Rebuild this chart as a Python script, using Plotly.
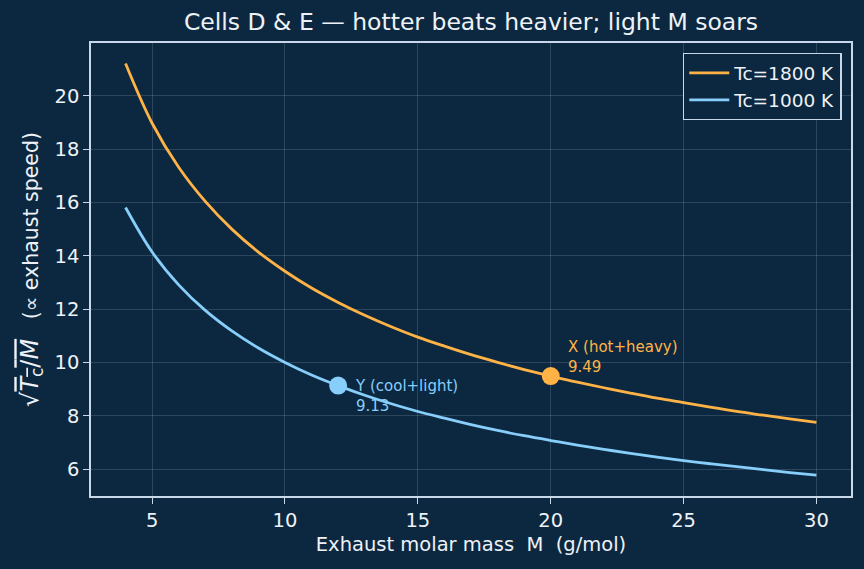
import plotly.graph_objects as go

# ---- data ----
molar_mass = [4, 5, 6, 7, 8, 9, 10, 11, 12, 13, 14, 15, 16, 17, 18, 19, 20,
              21, 22, 23, 24, 25, 26, 27, 28, 29, 30]
speed_1800 = [21.21, 18.97, 17.32, 16.04, 15.00, 14.14, 13.42, 12.79, 12.25,
              11.77, 11.34, 10.95, 10.61, 10.29, 10.00, 9.73, 9.49, 9.26, 9.05,
              8.85, 8.66, 8.49, 8.32, 8.16, 8.02, 7.88, 7.75]
speed_1000 = [15.81, 14.14, 12.91, 11.95, 11.18, 10.54, 10.00, 9.53, 9.13,
              8.77, 8.45, 8.16, 7.91, 7.67, 7.45, 7.25, 7.07, 6.90, 6.74, 6.59,
              6.45, 6.32, 6.20, 6.09, 5.98, 5.87, 5.77]
series_names = ["Tc=1800 K", "Tc=1000 K"]
point_x = [20, 12]
point_y = [9.49, 9.13]
point_labels = ["X (hot+heavy)", "Y (cool+light)"]
x_ticks = [5, 10, 15, 20, 25, 30]
y_ticks = [6, 8, 10, 12, 14, 16, 18, 20]

BG = "#0c2840"
ORANGE = "#ffb347"
BLUE = "#87cefa"
TXT = "#eef2f7"
SPINE = "#c9d8e8"
FONT = "DejaVu Sans"

fig = go.Figure()
fig.add_trace(go.Scatter(x=molar_mass, y=speed_1800, mode="lines",
                         line=dict(color=ORANGE, width=2.8, shape="spline"),
                         name=series_names[0]))
fig.add_trace(go.Scatter(x=molar_mass, y=speed_1000, mode="lines",
                         line=dict(color=BLUE, width=2.8, shape="spline"),
                         name=series_names[1]))
fig.add_trace(go.Scatter(x=[point_x[0]], y=[point_y[0]], mode="markers",
                         marker=dict(color=ORANGE, size=18), showlegend=False))
fig.add_trace(go.Scatter(x=[point_x[1]], y=[point_y[1]], mode="markers",
                         marker=dict(color=BLUE, size=18), showlegend=False))

# point labels, placed as in the reference
label_specs = [(0, ORANGE, 19), (1, BLUE, -10)]
for i, col, dy in label_specs:
    fig.add_annotation(x=point_x[i], y=point_y[i], xref="x", yref="y",
                       text=f"{point_labels[i]}<br>{point_y[i]:.2f}",
                       showarrow=False, xanchor="left", yanchor="middle",
                       align="left", xshift=15, yshift=dy,
                       font=dict(family=FONT, size=15, color=col))

axis_common = dict(showline=True, linecolor=SPINE, linewidth=1.6, mirror=True,
                   ticks="outside", ticklen=6, tickwidth=1.4, tickcolor=SPINE,
                   showgrid=True, gridcolor="rgba(255,255,255,0.14)", gridwidth=0.8,
                   zeroline=False, tickfont=dict(family=FONT, size=19.5, color=TXT))

ylabel = ("<span style='font-size:24px'>√<span style='text-decoration:overline'>"
          "<i>T</i><sub>c</sub>/<i>M</i></span></span>"
          "   (∝ exhaust speed)")

fig.update_layout(
    width=864, height=569,
    paper_bgcolor=BG, plot_bgcolor=BG,
    margin=dict(l=91, r=13, t=43, b=73),
    title=dict(text="Cells D &amp; E — hotter beats heavier; light M soars",
               x=0.5, xref="paper", xanchor="center", y=0.962, yanchor="middle",
               font=dict(family=FONT, size=23.5, color=TXT)),
    xaxis=dict(range=[2.7, 31.3], tickvals=x_ticks,
               title=dict(text="Exhaust molar mass  M  (g/mol)", standoff=6,
                          font=dict(family=FONT, size=19.5, color=TXT)),
               **axis_common),
    yaxis=dict(range=[4.99, 21.98], tickvals=y_ticks,
               title=dict(text=ylabel, standoff=10,
                          font=dict(family=FONT, size=20.5, color=TXT)),
               **axis_common),
    legend=dict(x=0.988, y=0.978, xanchor="right", yanchor="top",
                bgcolor=BG, bordercolor=SPINE, borderwidth=1.4,
                font=dict(family=FONT, size=18.5, color=TXT),
                tracegroupgap=0, itemwidth=40),
)

fig.write_html("out.html")
